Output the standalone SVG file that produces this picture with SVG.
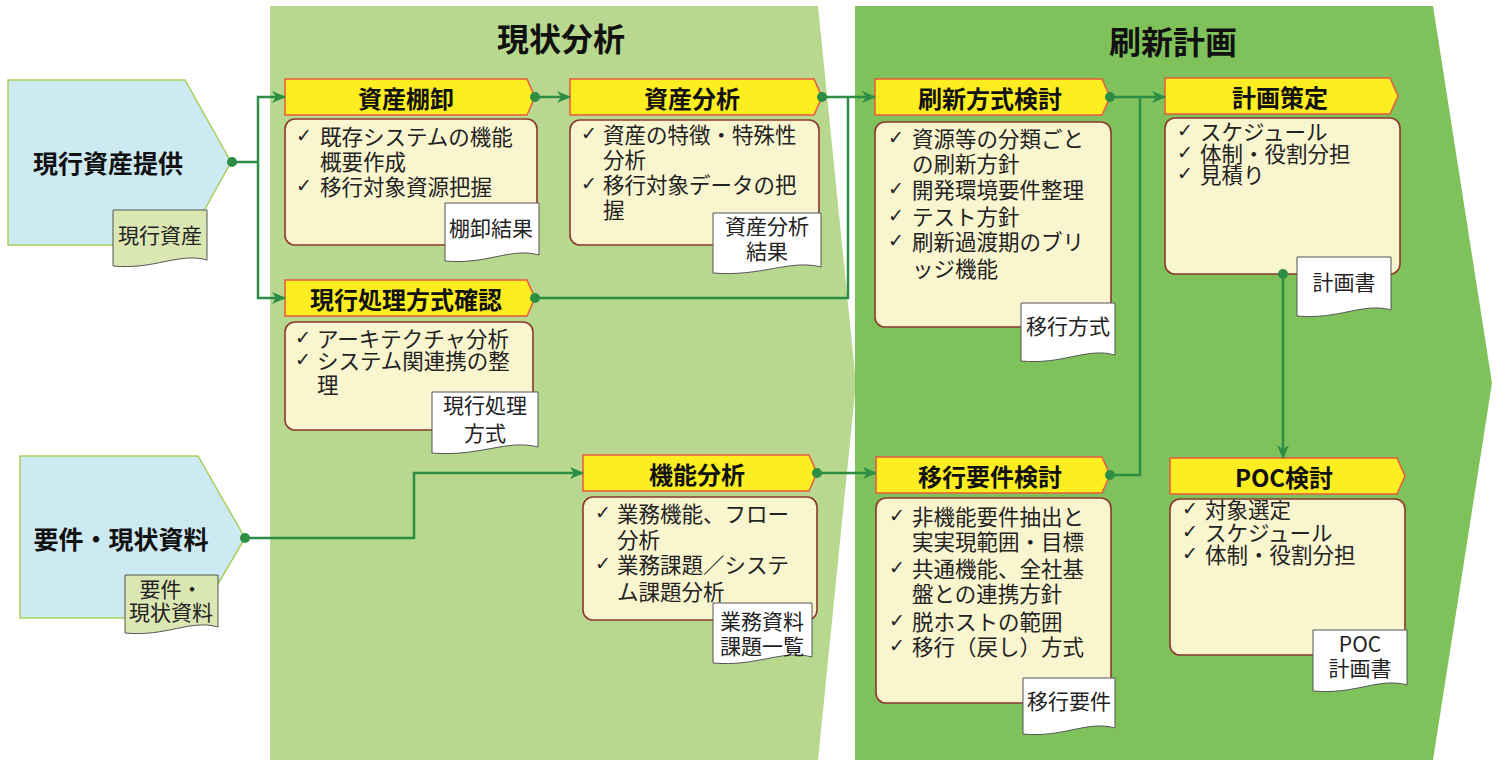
<svg xmlns="http://www.w3.org/2000/svg" width="1496" height="763" viewBox="0 0 1496 763">
<style>
text{font-family:"Noto Sans CJK JP","Noto Sans",sans-serif;dominant-baseline:central}
.title{font-size:32px;font-weight:bold;fill:#111;text-anchor:middle}
.in{font-size:25px;font-weight:bold;fill:#111;text-anchor:middle}
.hd{fill:#fcee21;stroke:#e85a3c;stroke-width:1.5}
.ht{font-size:24px;font-weight:bold;fill:#111;text-anchor:middle}
.box{fill:#f9f5cf;stroke:#8a3a2c;stroke-width:1.6}
.bt{font-size:21.5px;fill:#222}
.ck{font-family:"DejaVu Sans",sans-serif;font-size:19px;font-weight:bold}
.doc{fill:#fff;stroke:#555;stroke-width:1}
.idoc{fill:#dbe7b3;stroke:#555;stroke-width:1}
.dt{font-size:21px;fill:#222;text-anchor:middle}
.inp{fill:#cde9f2;stroke:#a6cf5c;stroke-width:1.5}
.cn{fill:none;stroke:#2b8e44;stroke-width:2.5}
.dot{fill:#2b8e44}
</style>
<defs>
<marker id="ah" markerUnits="userSpaceOnUse" markerWidth="14" markerHeight="12" refX="13" refY="6" orient="auto">
<path d="M0,0 L14,6 L0,12 L4,6 Z" fill="#2b8e44"/>
</marker>
</defs>
<rect width="1496" height="763" fill="#fff"/>
<g id="phase1">
<polygon points="270,6 818,6 856,383 818,760 270,760" fill="#b7d88e"/>
<text class="title" x="561" y="37">現状分析</text>
</g>
<g id="phase2">
<polygon points="855,6 1433,6 1492,383 1433,760 855,760" fill="#7fc25c"/>
<text class="title" x="1173" y="40">刷新計画</text>
</g>
<g id="n-genko-shisan">
<polygon class="inp" points="8,80 185,80 231,162 185,245 8,245"/>
<text class="in" x="108" y="162">現行資産提供</text>
<path class="idoc" d="M113,210 H207 V260 C179,252 155,270 113,266 Z"/>
<text class="dt" x="160" y="234">現行資産</text>
</g>
<g id="n-yoken">
<polygon class="inp" points="20,456 198,456 245,538 198,618 20,618"/>
<text class="in" x="121" y="538">要件・現状資料</text>
<path class="idoc" d="M125,575 H218 V627 C190,619 167,637 125,633 Z"/>
<text class="dt"><tspan x="171" y="588">要件・</tspan><tspan x="171" y="611">現状資料</tspan></text>
</g>
<g id="n-tanaoroshi">
<rect class="box" x="285" y="119" width="252" height="126" rx="10"/>
<path class="hd" d="M285,79 H527 L535,97 L527,115 H285 Z"/>
<text class="ht" x="406" y="97">資産棚卸</text>
<text class="bt"><tspan class="ck" x="296" y="135">✓</tspan><tspan x="320" y="135">既存システムの機能</tspan><tspan x="320" y="160">概要作成</tspan><tspan class="ck" x="296" y="185">✓</tspan><tspan x="320" y="185">移行対象資源把握</tspan></text>
<path class="doc" d="M445,203 H539 V255 C511,247 487,265 445,261 Z"/>
<text class="dt" x="491" y="227">棚卸結果</text>
</g>
<g id="n-shisan-bunseki">
<rect class="box" x="570" y="120" width="249" height="125" rx="10"/>
<path class="hd" d="M570,79 H814 L822,97 L814,115 H570 Z"/>
<text class="ht" x="692" y="97">資産分析</text>
<text class="bt"><tspan class="ck" x="581" y="133">✓</tspan><tspan x="603" y="133">資産の特徴・特殊性</tspan><tspan x="603" y="158">分析</tspan><tspan class="ck" x="581" y="183">✓</tspan><tspan x="603" y="183">移行対象データの把</tspan><tspan x="603" y="208">握</tspan></text>
<path class="doc" d="M713,213 H821 V267 C789,259 762,277 713,273 Z"/>
<text class="dt"><tspan x="767" y="225">資産分析</tspan><tspan x="767" y="250">結果</tspan></text>
</g>
<g id="n-genko-shori">
<rect class="box" x="285" y="322" width="248" height="108" rx="10"/>
<path class="hd" d="M285,280 H527 L535,298 L527,316 H285 Z"/>
<text class="ht" x="406" y="298">現行処理方式確認</text>
<text class="bt"><tspan class="ck" x="295" y="337">✓</tspan><tspan x="317" y="337">アーキテクチャ分析</tspan><tspan class="ck" x="295" y="359">✓</tspan><tspan x="317" y="359">システム関連携の整</tspan><tspan x="317" y="383">理</tspan></text>
<path class="doc" d="M432,392 H538 V447 C506,439 480,457 432,453 Z"/>
<text class="dt"><tspan x="485" y="404">現行処理</tspan><tspan x="485" y="432">方式</tspan></text>
</g>
<g id="n-kino-bunseki">
<rect class="box" x="583" y="497" width="234" height="123" rx="10"/>
<path class="hd" d="M583,455 H809 L817,473 L809,491 H583 Z"/>
<text class="ht" x="697" y="473">機能分析</text>
<text class="bt"><tspan class="ck" x="595" y="512">✓</tspan><tspan x="617" y="512">業務機能、フロー</tspan><tspan x="617" y="538">分析</tspan><tspan class="ck" x="595" y="563">✓</tspan><tspan x="617" y="563">業務課題／システ</tspan><tspan x="617" y="590">ム課題分析</tspan></text>
<path class="doc" d="M713,603 H812 V657 C782,649 757,667 713,663 Z"/>
<text class="dt"><tspan x="762" y="620">業務資料</tspan><tspan x="762" y="645">課題一覧</tspan></text>
</g>
<g id="n-sasshin-hoshiki">
<rect class="box" x="875" y="122" width="236" height="205" rx="10"/>
<path class="hd" d="M875,79 H1102 L1110,97 L1102,115 H875 Z"/>
<text class="ht" x="990" y="97">刷新方式検討</text>
<text class="bt"><tspan class="ck" x="888" y="137">✓</tspan><tspan x="912" y="137">資源等の分類ごと</tspan><tspan x="912" y="162">の刷新方針</tspan><tspan class="ck" x="888" y="188">✓</tspan><tspan x="912" y="188">開発環境要件整理</tspan><tspan class="ck" x="888" y="215">✓</tspan><tspan x="912" y="215">テスト方針</tspan><tspan class="ck" x="888" y="240">✓</tspan><tspan x="912" y="240">刷新過渡期のブリ</tspan><tspan x="912" y="267">ッジ機能</tspan></text>
<path class="doc" d="M1021,303 H1115 V355 C1087,347 1063,365 1021,361 Z"/>
<text class="dt" x="1068" y="325">移行方式</text>
</g>
<g id="n-iko-yoken">
<rect class="box" x="876" y="498" width="235" height="205" rx="10"/>
<path class="hd" d="M876,457 H1102 L1110,475 L1102,493 H876 Z"/>
<text class="ht" x="990" y="475">移行要件検討</text>
<text class="bt"><tspan class="ck" x="889" y="515">✓</tspan><tspan x="912" y="515">非機能要件抽出と</tspan><tspan x="912" y="540">実実現範囲・目標</tspan><tspan class="ck" x="889" y="567">✓</tspan><tspan x="912" y="567">共通機能、全社基</tspan><tspan x="912" y="592">盤との連携方針</tspan><tspan class="ck" x="889" y="620">✓</tspan><tspan x="912" y="620">脱ホストの範囲</tspan><tspan class="ck" x="889" y="645">✓</tspan><tspan x="912" y="645">移行（戻し）方式</tspan></text>
<path class="doc" d="M1023,678 H1115 V728 C1087,720 1064,738 1023,734 Z"/>
<text class="dt" x="1069" y="700">移行要件</text>
</g>
<g id="n-keikaku">
<rect class="box" x="1165" y="118" width="235" height="156" rx="10"/>
<path class="hd" d="M1165,78 H1390 L1398,96 L1390,114 H1165 Z"/>
<text class="ht" x="1280" y="96">計画策定</text>
<text class="bt"><tspan class="ck" x="1177" y="130">✓</tspan><tspan x="1200" y="130">スケジュール</tspan><tspan class="ck" x="1177" y="152">✓</tspan><tspan x="1200" y="152">体制・役割分担</tspan><tspan class="ck" x="1177" y="173">✓</tspan><tspan x="1200" y="173">見積り</tspan></text>
<path class="doc" d="M1297,257 H1391 V310 C1363,302 1339,320 1297,316 Z"/>
<text class="dt" x="1344" y="281">計画書</text>
</g>
<g id="n-poc">
<rect class="box" x="1170" y="499" width="235" height="156" rx="10"/>
<path class="hd" d="M1170,458 H1397 L1405,476 L1397,494 H1170 Z"/>
<text class="ht" x="1284" y="476">POC検討</text>
<text class="bt"><tspan class="ck" x="1182" y="508">✓</tspan><tspan x="1205" y="508">対象選定</tspan><tspan class="ck" x="1182" y="531">✓</tspan><tspan x="1205" y="531">スケジュール</tspan><tspan class="ck" x="1182" y="553">✓</tspan><tspan x="1205" y="553">体制・役割分担</tspan></text>
<path class="doc" d="M1313,630 H1407 V685 C1379,677 1355,695 1313,691 Z"/>
<text class="dt"><tspan x="1360" y="643">POC</tspan><tspan x="1360" y="667">計画書</tspan></text>
</g>
<g id="connectors">
<path class="cn" d="M232,162 H258"/>
<path class="cn" d="M258,162 V97 H285" marker-end="url(#ah)"/>
<path class="cn" d="M258,162 V298 H285" marker-end="url(#ah)"/>
<path class="cn" d="M535,97 H570" marker-end="url(#ah)"/>
<path class="cn" d="M822,97 H875" marker-end="url(#ah)"/>
<path class="cn" d="M535,298 H848 V97"/>
<path class="cn" d="M245,538 H414 V473 H583" marker-end="url(#ah)"/>
<path class="cn" d="M817,473 H876" marker-end="url(#ah)"/>
<path class="cn" d="M1110,97 H1165" marker-end="url(#ah)"/>
<path class="cn" d="M1110,475 H1140 V97"/>
<path class="cn" d="M1283,274 V458" marker-end="url(#ah)"/>
<circle class="dot" cx="232" cy="162" r="5"/>
<circle class="dot" cx="535" cy="97" r="5"/>
<circle class="dot" cx="822" cy="97" r="5"/>
<circle class="dot" cx="535" cy="298" r="5"/>
<circle class="dot" cx="245" cy="538" r="5"/>
<circle class="dot" cx="817" cy="473" r="5"/>
<circle class="dot" cx="1110" cy="97" r="5"/>
<circle class="dot" cx="1110" cy="475" r="5"/>
<circle class="dot" cx="1283" cy="274" r="5"/>
</g>
</svg>
